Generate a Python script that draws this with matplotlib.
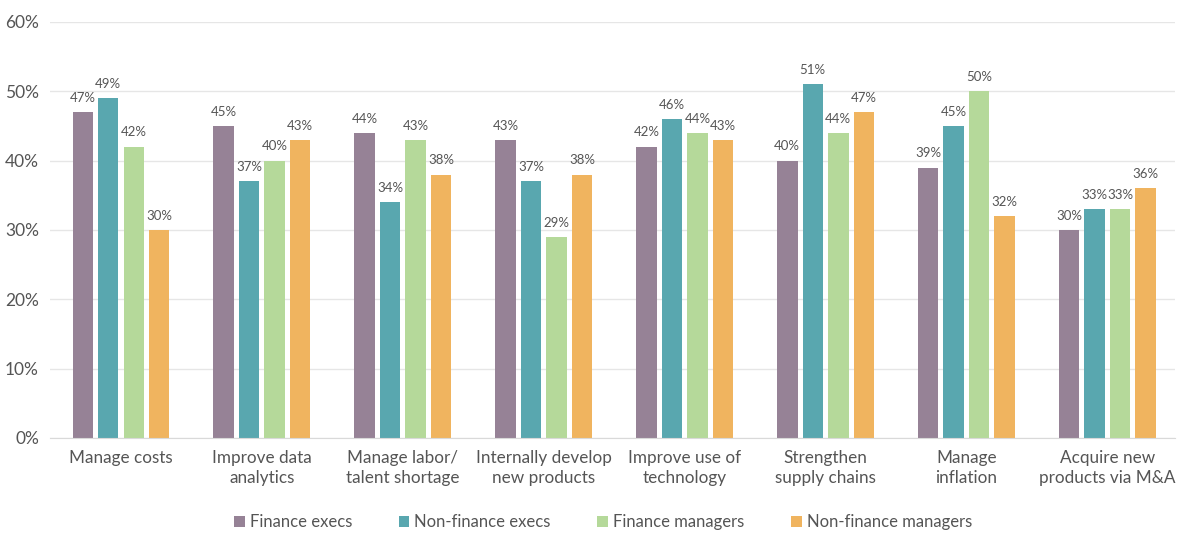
import matplotlib
matplotlib.use("Agg")
import matplotlib.pyplot as plt
import numpy as np

categories = ["Manage costs", "Improve data\nanalytics", "Manage labor/\ntalent shortage",
              "Internally develop\nnew products", "Improve use of\ntechnology", "Strengthen\nsupply chains",
              "Manage\ninflation", "Acquire new\nproducts via M&A"]
series_names = ["Finance execs", "Non-finance execs", "Finance managers", "Non-finance managers"]
finance_execs = [47, 45, 44, 43, 42, 40, 39, 30]
nonfinance_execs = [49, 37, 34, 37, 46, 51, 45, 33]
finance_managers = [42, 40, 43, 29, 44, 44, 50, 33]
nonfinance_managers = [30, 43, 38, 38, 43, 47, 32, 36]
yticks = [0, 10, 20, 30, 40, 50, 60]

colors = ["#968296", "#59A7AF", "#B5D99A", "#F0B45F"]
text_color = "#555555"
plt.rcParams['font.family'] = ['Lato', 'DejaVu Sans']

fig = plt.figure(figsize=(11.8, 5.33), dpi=100)
ax = fig.add_axes([50/1180, 95/533, 1125/1180, (438-22)/533])

x = np.arange(len(categories))
step = 0.181
width = 0.145
all_series = [finance_execs, nonfinance_execs, finance_managers, nonfinance_managers]
for i, (vals, name, c) in enumerate(zip(all_series, series_names, colors)):
    pos = x + (i - 1.5) * step
    ax.bar(pos, vals, width=width, color=c, label=name, zorder=3)
    for p, v in zip(pos, vals):
        ax.text(p, v + 1.2, f"{v}%", ha="center", va="bottom", fontsize=9.5, color=text_color)

ax.set_xlim(-0.504, 7.48)
ax.set_ylim(0, 60)
ax.set_yticks(yticks)
ax.set_yticklabels([f"{t}%" for t in yticks], fontsize=12.5, color=text_color)
ax.set_xticks(x)
ax.set_xticklabels(categories, fontsize=12.3, color=text_color, linespacing=1.3)
ax.tick_params(axis="both", length=0)
ax.tick_params(axis="y", pad=8)
ax.tick_params(axis="x", pad=9)
ax.yaxis.grid(True, color="#e6e6e6", linewidth=1, zorder=0)
for s in ["top", "right", "left"]:
    ax.spines[s].set_visible(False)
ax.spines["bottom"].set_color("#d9d9d9")
ax.spines["bottom"].set_zorder(4)

leg = fig.legend(loc="center", bbox_to_anchor=(603/1180, 1 - 522/533), ncol=4, frameon=False,
                 fontsize=12, handlelength=0.65, handleheight=0.65, handletextpad=0.3, columnspacing=2.8)
for t in leg.get_texts():
    t.set_color(text_color)

fig.savefig("out.png", dpi=100)
